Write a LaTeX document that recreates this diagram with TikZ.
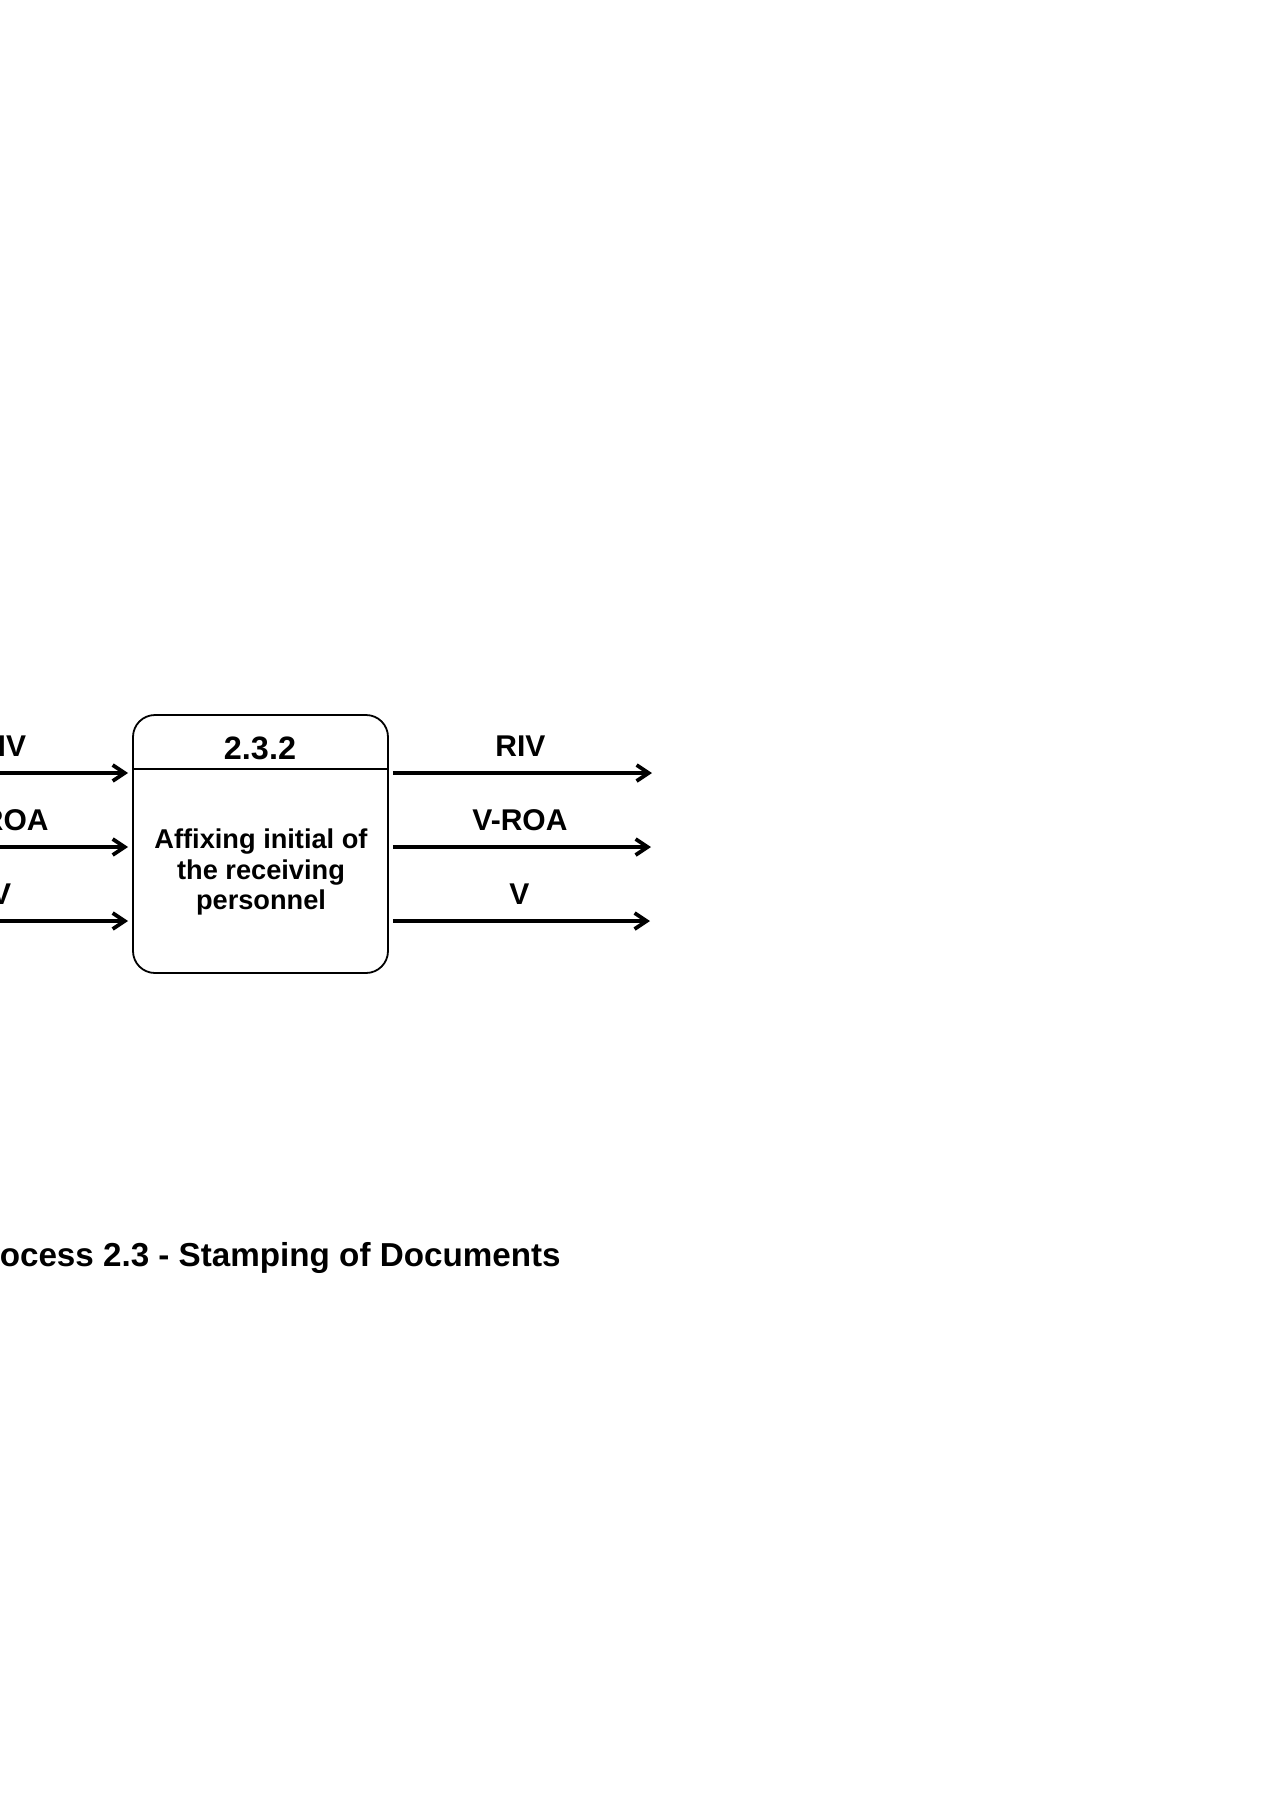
\documentclass[tikz,border=0pt]{standalone}
\usepackage{fontspec}
\setmainfont{Liberation Sans}
\usetikzlibrary{arrows.meta,positioning,calc}
\tikzset{
    caixa/.style={
        rectangle,
        draw,
        line width=0.9pt,
        rounded corners=11pt,
        minimum width=127.5pt,
        minimum height=129pt,
        inner sep=0pt
    },
    seta/.style={-{Straight Barb[length=6pt,width=8pt]}, line width=1.9pt},
    entrada/.style={seta, shorten >=2pt},
    saida/.style={seta, shorten <=2pt},
    rotulo/.style={
        font=\fontsize{15}{18}\selectfont\bfseries,
        inner sep=0pt,
        anchor=base,
        yshift=8.5pt
    },
    numero/.style={font=\fontsize{16.2}{19}\selectfont\bfseries, inner sep=0pt, anchor=base},
    descricao/.style={font=\fontsize{13.6}{15.25}\selectfont\bfseries, align=center, inner sep=0pt},
    titulo/.style={font=\fontsize{16.6}{20}\selectfont\bfseries, inner sep=0pt, anchor=base east}
}

\begin{document}
\begin{tikzpicture}[x=0.5pt, y=-0.5pt]
    \useasboundingbox (0,0) rectangle (1272,1800);
    \clip (0,0) rectangle (1272,1800);

    % processo 2.3.2
    \node[caixa] (proc) at (260.5,844) {};
    \coordinate (div) at (0,769);
    \draw[line width=0.9pt] (div -| proc.west) -- (div -| proc.east);
    \node[numero] (num) at (260,759) {2.3.2};
    \node[descricao] (desc) at (261,872)
        {Affixing initial of\\the receiving\\personnel};

    % extremos das setas
    \coordinate (eRIV) at (-130,773);
    \coordinate (eVROA) at (-130,847);
    \coordinate (eV) at (-130,921);
    \coordinate (sRIV) at (652,773);
    \coordinate (sVROA) at (651,847);
    \coordinate (sV) at (650,921);

    \draw[entrada] (eRIV) -- node[rotulo] (lRIV) {RIV} (eRIV -| proc.west);
    \draw[entrada] (eVROA) -- node[rotulo] (lVROA) {V-ROA} (eVROA -| proc.west);
    \draw[entrada] (eV) -- node[rotulo] (lV) {V} (eV -| proc.west);
    \draw[saida] (sRIV -| proc.east) -- node[rotulo] (mRIV) {RIV} (sRIV);
    \draw[saida] (sVROA -| proc.east) -- node[rotulo] (mVROA) {V-ROA} (sVROA);
    \draw[saida] (sV -| proc.east) -- node[rotulo] (mV) {V} (sV);

    \node[titulo] (tit) at (561,1266) {Process 2.3 - Stamping of Documents};
\end{tikzpicture}
\end{document}
